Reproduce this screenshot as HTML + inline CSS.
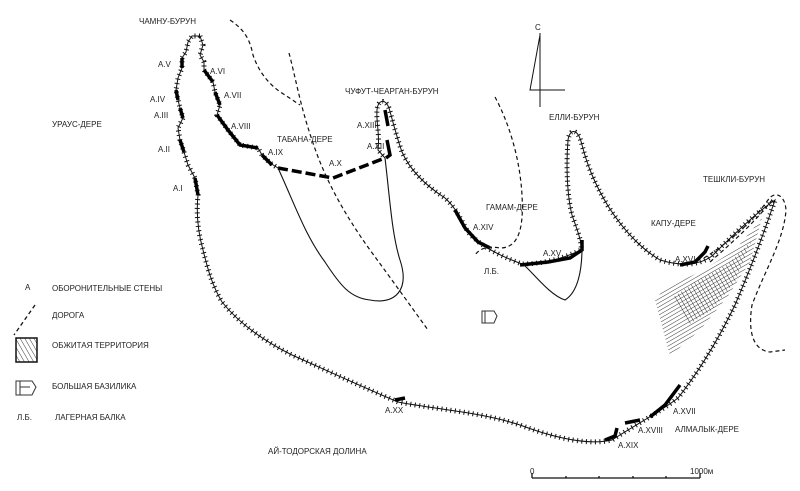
<!DOCTYPE html>
<html><head><meta charset="utf-8"><style>
html,body{margin:0;padding:0;background:#fff;}
svg{display:block;}
text{font-family:"Liberation Sans",sans-serif;fill:#222;font-size:8px;}
</style></head><body>
<svg width="800" height="491" viewBox="0 0 800 491" xmlns="http://www.w3.org/2000/svg">
<defs>
<pattern id="h1" width="3.5" height="3.5" patternUnits="userSpaceOnUse" patternTransform="rotate(60)"><line x1="0" y1="0" x2="0" y2="4" stroke="#222" stroke-width="0.9"/></pattern>
<pattern id="h2" width="4" height="4" patternUnits="userSpaceOnUse" patternTransform="rotate(-30)"><line x1="0" y1="0" x2="0" y2="5" stroke="#222" stroke-width="0.9"/></pattern>
</defs>
<!-- inhabited area -->
<polygon points="655,300 665,288 700,272 735,250 762,218 750,262 728,296 700,330 670,356" fill="url(#h1)"/>
<polygon points="672,298 695,282 728,264 752,240 735,282 712,310 688,325" fill="url(#h2)"/>
<g fill="none" stroke="#111">
<path id="w" d="M200,36 L192,36 L188,42 L186,52 L182,58 L182,68 L178,78 L176,90 L178,100 L180,108 L183,118 L178,128 L180,140 L184,152 L188,165 L195,178 L198,195 C196,215 198,232 203,250 C208,270 212,285 222,302 C238,322 262,340 292,355 C330,372 365,388 398,402 C440,410 480,412 520,425 C560,440 590,445 612,440 C635,425 660,412 678,398 C700,370 718,340 735,305 C752,265 765,230 775,200 C760,210 740,228 712,256 C698,266 680,266 660,260 C640,248 622,228 608,206 C596,186 588,168 582,145 C578,128 570,128 568,140 C566,165 567,195 572,215 C578,232 582,242 581,250 C560,260 540,264 522,264 C500,256 480,246 468,232 C460,218 456,208 445,198 C425,185 410,170 402,152 C396,135 392,118 389,108 C385,98 378,100 377,110 C376,122 380,135 378,150 L385,158"/>
<path id="e" d="M200,36 L203,45 L200,55 L204,62 L204,70 L213,82 L215,92 L220,105 L217,115 L228,130 L240,145 L258,148 L262,155 L270,163 L278,168"/>
</g>
<g fill="none" stroke="#111" stroke-width="5" stroke-dasharray="1 3.5">
<use href="#w"/><use href="#e"/>
</g>
<!-- walls -->
<g stroke="#000" stroke-width="3.5" fill="none">
<path d="M182,58 L182,68"/><path d="M176,90 L178,100"/><path d="M180,108 L183,118"/><path d="M180,140 L184,152"/>
<path d="M195,178 L198,195"/><path d="M204,70 L213,82"/><path d="M215,92 L220,105"/>
<path d="M217,115 L228,130 L240,145 L258,148"/><path d="M262,155 L272,165"/>
<path d="M385,110 L388,126"/><path d="M387,140 L390,155 L386,158"/>
<path d="M455,210 L465,228 L478,242 L490,248"/>
<path d="M520,265 L548,262 L570,258 L582,250 L582,240"/>
<path d="M680,265 L695,262 L705,252 L708,246"/>
<path d="M605,440 L615,436 L617,428"/><path d="M625,423 L640,420"/>
<path d="M650,417 L665,405 L680,385"/>
<path d="M395,400 L405,398"/>
</g>
<path d="M278,168 L333,178 L385,158" stroke="#000" stroke-width="3.5" stroke-dasharray="10 4" fill="none"/>
<g fill="none" stroke="#111" stroke-width="1.1">
<path d="M278,168 C295,205 305,235 325,262 C340,285 350,298 370,300 C395,305 410,290 400,260 C392,235 390,200 385,158"/>
<path d="M524,265 C535,275 550,295 565,300 C578,292 582,270 582,248"/>
</g>
<g fill="none" stroke="#111" stroke-width="1.2" stroke-dasharray="4 3">
<path d="M230,20 C245,30 250,40 253,55 C258,70 268,85 285,95 L300,105"/>
<path d="M289,53 C295,75 300,105 312,140 C325,180 345,215 370,250 C392,280 410,305 428,330"/>
<path d="M495,97 C510,125 520,160 522,195 C524,230 518,248 500,248 C488,246 480,248 475,255"/>
<path d="M704,258 C725,245 750,225 768,200 C775,190 785,195 786,210 C784,240 765,270 752,305 C748,330 752,350 770,352 L785,350"/>
<path d="M710,262 C735,240 755,222 772,200"/>
</g>
<g stroke="#111" fill="none" stroke-width="1">
<line x1="540" y1="33" x2="540" y2="107"/><polyline points="540,35 530,90 540,90"/><line x1="530" y1="90" x2="565" y2="90"/>
</g>
<text x="535" y="30" font-size="9">С</text>
<g stroke="#111" stroke-width="1.3"><line x1="532" y1="478" x2="700" y2="478"/>
<line x1="532" y1="473" x2="532" y2="478"/><line x1="700" y1="473" x2="700" y2="478"/>
<line x1="566" y1="476" x2="566" y2="478"/><line x1="599" y1="476" x2="599" y2="478"/><line x1="633" y1="476" x2="633" y2="478"/><line x1="666" y1="476" x2="666" y2="478"/></g>
<text x="530" y="474">0</text><text x="690" y="474">1000м</text>
<text x="139" y="24">ЧАМНУ-БУРУН</text>
<text x="52" y="127">УРАУС-ДЕРЕ</text>
<text x="345" y="94">ЧУФУТ-ЧЕАРГАН-БУРУН</text>
<text x="549" y="120">ЕЛЛИ-БУРУН</text>
<text x="277" y="142">ТАБАНА-ДЕРЕ</text>
<text x="486" y="210">ГАМАМ-ДЕРЕ</text>
<text x="651" y="226">КАПУ-ДЕРЕ</text>
<text x="703" y="182" font-size="9">ТЕШКЛИ-БУРУН</text>
<text x="675" y="432">АЛМАЛЫК-ДЕРЕ</text>
<text x="268" y="454" font-size="11">АЙ-ТОДОРСКАЯ ДОЛИНА</text>
<text x="484" y="274">Л.Б.</text>
<g font-size="7.5">
<text x="158" y="67">A.V</text><text x="210" y="74">A.VI</text><text x="224" y="98">A.VII</text>
<text x="150" y="102">A.IV</text><text x="154" y="118">A.III</text><text x="158" y="152">A.II</text>
<text x="173" y="191">A.I</text><text x="231" y="129">A.VIII</text><text x="268" y="155">A.IX</text>
<text x="329" y="166">A.X</text><text x="357" y="128">A.XIII</text><text x="367" y="149">A.XII</text>
<text x="473" y="230">A.XIV</text><text x="543" y="256">A.XV</text><text x="675" y="262">A.XVI</text>
<text x="673" y="414">A.XVII</text><text x="638" y="433">A.XVIII</text><text x="618" y="448">A.XIX</text>
<text x="385" y="413">A.XX</text>
</g>
<text x="25" y="290">A</text><text x="52" y="291" font-size="7.5">ОБОРОНИТЕЛЬНЫЕ СТЕНЫ</text>
<path d="M35,305 L14,335" stroke="#111" stroke-width="1.3" stroke-dasharray="4 3" fill="none"/>
<text x="52" y="318" font-size="7.5">ДОРОГА</text>
<rect x="16" y="338" width="21" height="24" fill="url(#h2)" stroke="#111" stroke-width="1.5"/>
<text x="52" y="348" font-size="7.5">ОБЖИТАЯ ТЕРРИТОРИЯ</text>
<g stroke="#333" fill="none" stroke-width="1"><path d="M16,381 H32 L36,387 L32,395 H16 Z"/><line x1="20" y1="381" x2="20" y2="395"/><line x1="20" y1="387" x2="30" y2="387"/></g>
<g stroke="#333" fill="none" stroke-width="1"><path d="M482,311 H494 L497,316 L494,323 H482 Z"/><line x1="485" y1="311" x2="485" y2="323"/></g>
<text x="52" y="389" font-size="7.5">БОЛЬШАЯ БАЗИЛИКА</text>
<text x="17" y="420">Л.Б.</text><text x="55" y="420" font-size="7.5">ЛАГЕРНАЯ БАЛКА</text>
</svg>
</body></html>
